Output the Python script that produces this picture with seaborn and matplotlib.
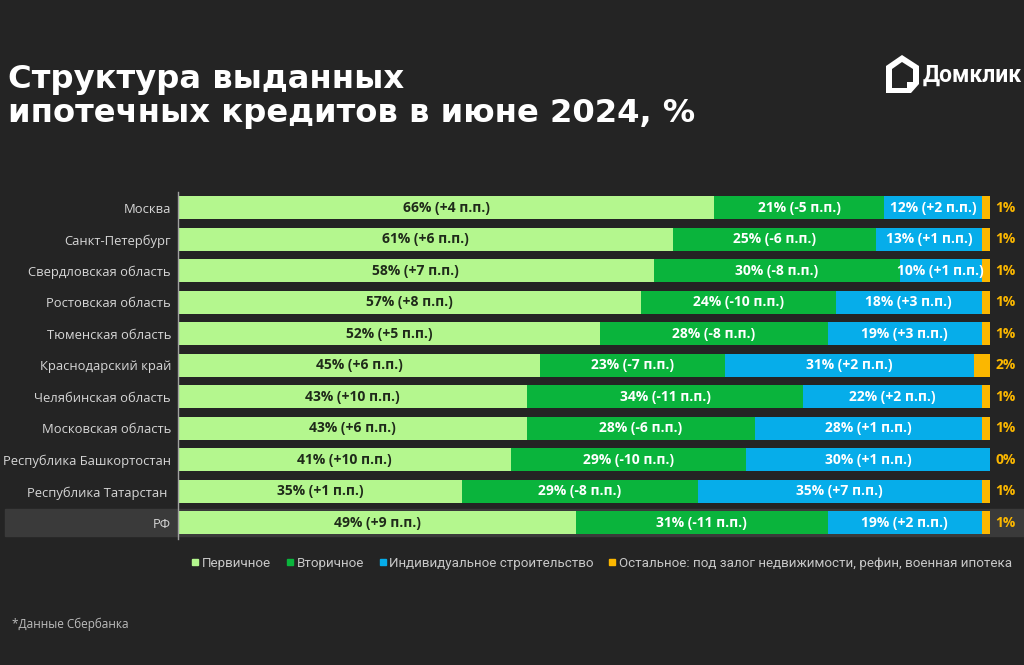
import numpy as np
import pandas as pd
import matplotlib.pyplot as plt
import matplotlib.transforms as mtransforms
from matplotlib.patches import Rectangle, Polygon
from matplotlib.lines import Line2D
import seaborn as sns

regions = ['Москва', 'Санкт-Петербург', 'Свердловская область', 'Ростовская область',
           'Тюменская область', 'Краснодарский край', 'Челябинская область',
           'Московская область', 'Республика Башкортостан', 'Республика Татарстан ', 'РФ']
primary = [66, 61, 58, 57, 52, 45, 43, 43, 41, 35, 49]
primary_chg = [4, 6, 7, 8, 5, 6, 10, 6, 10, 1, 9]
secondary = [21, 25, 30, 24, 28, 23, 34, 28, 29, 29, 31]
secondary_chg = [-5, -6, -8, -10, -8, -7, -11, -6, -10, -8, -11]
individual = [12, 13, 10, 18, 19, 31, 22, 28, 30, 35, 19]
individual_chg = [2, 1, 1, 3, 3, 2, 2, 1, 1, 7, 2]
other = [1, 1, 1, 1, 1, 2, 1, 1, 0, 1, 1]

legend_labels = ['Первичное', 'Вторичное', 'Индивидуальное строительство',
                 'Остальное: под залог недвижимости, рефин, военная ипотека']

bg = '#242424'
c_prim = '#b4f78e'
c_sec = '#0ab43c'
c_ind = '#06adea'
c_oth = '#fbb700'

sns.set_theme(style='dark')
plt.rcParams['font.family'] = ['Open Sans', 'DejaVu Sans']

df = pd.DataFrame({'region': regions, 'primary': primary, 'secondary': secondary,
                   'individual': individual, 'other': other})
cols = ['primary', 'secondary', 'individual', 'other']
# normalize rows to 100 (rounded values don't always sum to 100)
shares = df[cols].div(df[cols].sum(axis=1), axis=0) * 100
cum = shares.cumsum(axis=1)
cum['region'] = regions

fig = plt.figure(figsize=(10.24, 6.65), dpi=100, facecolor=bg)
ax = fig.add_axes([178 / 1024, 0.19, 812 / 1024, 0.521])
ax.set_facecolor(bg)

# stacked bars: draw cumulative totals from widest to narrowest
for col, color in zip(reversed(cols), [c_oth, c_ind, c_sec, c_prim]):
    sns.barplot(data=cum, x=col, y='region', orient='h', color=color, saturation=1,
                width=0.73, linewidth=0, ax=ax, zorder=2)

# highlight band for РФ
trans = mtransforms.blended_transform_factory(fig.transFigure, ax.transData)
ax.add_patch(Rectangle((5 / 1024, len(regions) - 1 - 0.43), 1, 0.86, transform=trans,
                       color='#3a3a3a', zorder=0, clip_on=False))

for i in range(len(regions)):
    left = 0
    for col, chg, tc in [('primary', primary_chg, '#1f2a1a'),
                         ('secondary', secondary_chg, 'white'),
                         ('individual', individual_chg, 'white')]:
        w = shares[col].iloc[i]
        ax.text(left + w / 2, i, f"{df[col].iloc[i]}% ({chg[i]:+d} п.п.)", ha='center',
                va='center', color=tc, fontsize=10, fontweight='bold', zorder=3)
        left += w
    ax.text(101.9, i, f"{other[i]}%", ha='center', va='center', color=c_oth,
            fontsize=10, fontweight='bold', clip_on=False)

ax.set_xlim(0, 100)
ax.set_ylim(len(regions) - 0.5, -0.5)
ax.set_xticks([])
ax.set_xlabel('')
ax.set_ylabel('')
ax.tick_params(axis='y', length=0, pad=5, labelcolor='#d6d6d6', labelsize=9.4)
for s in ['top', 'right', 'bottom']:
    ax.spines[s].set_visible(False)
ax.spines['left'].set_color('#a0a0a0')
ax.spines['left'].set_linewidth(1)
ax.grid(False)

handles = [Line2D([], [], marker='s', linestyle='', markersize=5, color=c)
           for c in [c_prim, c_sec, c_ind, c_oth]]
fig.legend(handles, legend_labels, loc='center', bbox_to_anchor=(0.587, 0.153), ncol=4,
           frameon=False, labelcolor='#c8c8c8', handletextpad=0.1,
           columnspacing=1.0, handlelength=0.8, prop={'family': 'Roboto', 'size': 9.6})

# title
fig.text(8 / 1024, 1 - 88 / 665, 'Структура выданных', color='white', fontsize=23.2,
         fontweight='bold', family='DejaVu Sans', va='baseline')
fig.text(8 / 1024, 1 - 122 / 665, 'ипотечных кредитов в июне 2024, %', color='white',
         fontsize=23.2, fontweight='bold', family='DejaVu Sans', va='baseline')

# logo
px = mtransforms.Affine2D().scale(1 / 1024, -1 / 665).translate(0, 1) + fig.transFigure
house = [(886, 66), (902, 55), (919, 66), (919, 84), (911, 93), (886, 93)]
fig.patches.append(Polygon(house, closed=True, facecolor='white', edgecolor='none',
                           transform=px))
inner = [(892, 69), (902, 62), (913, 69), (913, 82), (907, 82), (907, 88), (892, 88)]
fig.patches.append(Polygon(inner, closed=True, facecolor=bg, edgecolor='none',
                           transform=px))
fig.text(923 / 1024, 1 - 75 / 665, 'Домклик', color='white', fontsize=16.5,
         fontweight='bold', family='Roboto', va='center')

fig.text(12 / 1024, 1 - 624 / 665, '*Данные Сбербанка', color='#bdbdbd', fontsize=8.5,
         va='center')

fig.savefig('out.png', dpi=100, facecolor=bg)
